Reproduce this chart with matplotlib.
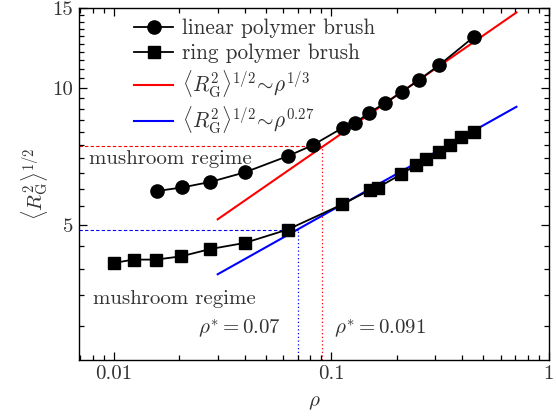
import numpy as np
import matplotlib
matplotlib.use("Agg")
import matplotlib.pyplot as plt
from matplotlib.ticker import FixedLocator, NullFormatter, LogLocator

plt.rcParams['font.family'] = 'serif'
plt.rcParams['font.serif'] = ['cmr10', 'DejaVu Serif']
plt.rcParams['mathtext.fontset'] = 'cm'
plt.rcParams['axes.formatter.use_mathtext'] = True
plt.rcParams['axes.unicode_minus'] = False

# ---- data ----
linear_x = [0.0157, 0.0206, 0.0277, 0.040, 0.063, 0.082, 0.1126, 0.1287, 0.149,
            0.176, 0.2105, 0.2526, 0.314, 0.451]
linear_y = [5.93, 6.04, 6.21, 6.52, 7.08, 7.48, 8.17, 8.38, 8.82,
            9.25, 9.80, 10.41, 11.24, 12.94]

ring_x = [0.010, 0.0123, 0.0156, 0.0204, 0.0277, 0.040, 0.063, 0.112, 0.150,
          0.163, 0.2096, 0.244, 0.273, 0.312, 0.353, 0.396, 0.451]
ring_y = [4.12, 4.19, 4.19, 4.26, 4.42, 4.56, 4.88, 5.54, 5.96,
          6.03, 6.46, 6.76, 6.97, 7.23, 7.48, 7.81, 7.98]

fit_x = [0.03, 0.71]
fit_red_y = [5.14, 14.66]    # ~ rho^(1/3)
fit_blue_y = [3.89, 9.09]    # ~ rho^0.27

rho_star_linear = 0.091
rg_star_linear = 7.47
rho_star_ring = 0.07
rg_star_ring = 4.88

x_ticks = [0.01, 0.1, 1]
x_ticklabels = ['0.01', '0.1', '1']
y_ticks = [5, 10, 15]
y_ticklabels = ['5', '10', '15']
y_minor = [v for v in np.arange(2.5, 15.01, 0.5) if v not in (5, 10, 15)]

xlim = (0.0069, 1.0)
ylim = (2.52, 15.0)

txt = '#333333'

fig = plt.figure(figsize=(5.56, 4.19), dpi=100)
ax = fig.add_axes([0.142, 0.141, 0.845, 0.840])
ax.set_xscale('log')
ax.set_yscale('log')
ax.set_xlim(*xlim)
ax.set_ylim(*ylim)

# guide lines
ax.plot([xlim[0], rho_star_linear], [rg_star_linear, rg_star_linear], color='red',
        ls=(0, (3, 2)), lw=0.8, zorder=1)
ax.plot([rho_star_linear, rho_star_linear], [ylim[0], rg_star_linear], color='red',
        ls=(0, (1, 2)), lw=0.9, zorder=1)
ax.plot([xlim[0], rho_star_ring], [rg_star_ring, rg_star_ring], color='blue',
        ls=(0, (3, 2)), lw=0.8, zorder=1)
ax.plot([rho_star_ring, rho_star_ring], [ylim[0], rg_star_ring], color='blue',
        ls=(0, (1, 2)), lw=0.9, zorder=1)

ax.plot(linear_x, linear_y, '-o', color='black', lw=1.3, ms=9.5, zorder=3,
        label='linear polymer brush')
ax.plot(ring_x, ring_y, '-s', color='black', lw=1.3, ms=9.0, zorder=3,
        label='ring polymer brush')
ax.plot(fit_x, fit_red_y, '-', color='red', lw=1.5, zorder=2,
        label=r'$\langle R_{\rm G}^2\rangle^{1/2}\!\sim\!\rho^{1/3}$')
ax.plot(fit_x, fit_blue_y, '-', color='blue', lw=1.5, zorder=2,
        label=r'$\langle R_{\rm G}^2\rangle^{1/2}\!\sim\!\rho^{0.27}$')

leg = ax.legend(loc='upper left', bbox_to_anchor=(0.09, 1.005), frameon=False,
                fontsize=15.3, handlelength=1.85, handletextpad=0.4,
                labelspacing=0.25, borderaxespad=0.2)
for t in leg.get_texts():
    t.set_color(txt)

ax.text(0.00766, 6.97, 'mushroom regime', fontsize=15, color=txt, va='center')
ax.text(0.0080, 3.44, 'mushroom regime', fontsize=15, color=txt, va='center')
ax.text(0.0244, 2.95, r'$\rho^{*} = 0.07$', fontsize=15, color=txt, va='center')
ax.text(0.1032, 2.95, r'$\rho^{*} = 0.091$', fontsize=15, color=txt, va='center')

ax.xaxis.set_major_locator(FixedLocator(x_ticks))
ax.set_xticklabels(x_ticklabels)
ax.xaxis.set_minor_locator(LogLocator(base=10, subs=np.arange(2, 10)))
ax.xaxis.set_minor_formatter(NullFormatter())
ax.yaxis.set_major_locator(FixedLocator(y_ticks))
ax.set_yticklabels(y_ticklabels)
ax.yaxis.set_minor_locator(FixedLocator(y_minor))
ax.yaxis.set_minor_formatter(NullFormatter())

ax.tick_params(which='both', direction='in', top=True, right=True, labelsize=15,
               labelcolor=txt, width=0.9)
ax.tick_params(which='major', length=6, pad=4)
ax.tick_params(which='minor', length=3.5)
for s in ax.spines.values():
    s.set_linewidth(1.0)

ax.set_xlabel(r'$\rho$', fontsize=15, color=txt, labelpad=8)
ax.set_ylabel(r'$\langle R_{\rm G}^2\rangle^{1/2}$', fontsize=15, color=txt, labelpad=2)

fig.savefig('out.png', dpi=100)
